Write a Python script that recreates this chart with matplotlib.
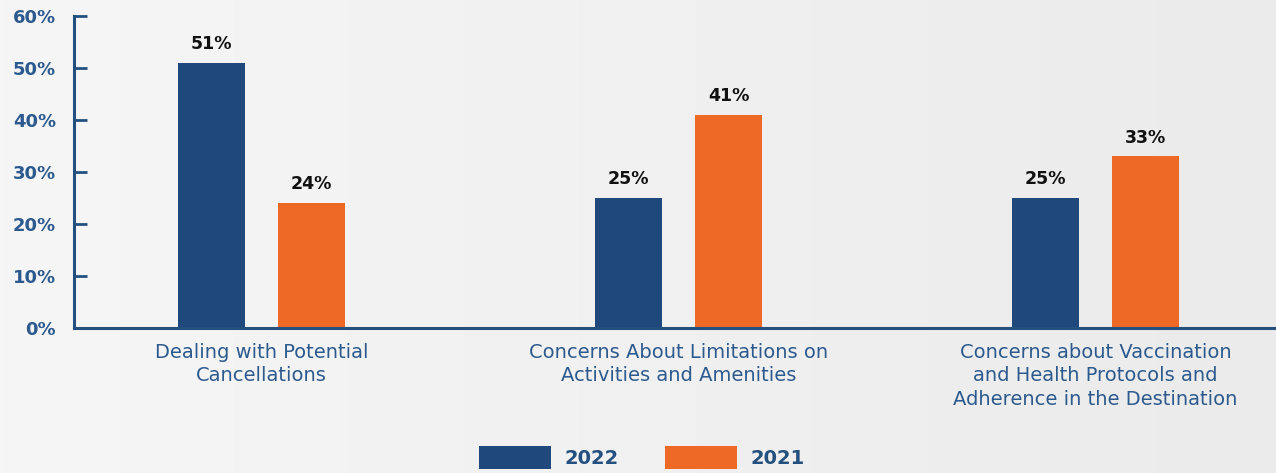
import numpy as np
import matplotlib
matplotlib.use("Agg")
import matplotlib.pyplot as plt
from matplotlib.colors import LinearSegmentedColormap

# Data
categories = [
    "Dealing with Potential\nCancellations",
    "Concerns About Limitations on\nActivities and Amenities",
    "Concerns about Vaccination\nand Health Protocols and\nAdherence in the Destination",
]
series_names = ["2022", "2021"]
values_2022 = [51, 25, 25]
values_2021 = [24, 41, 33]
y_ticks = [0, 10, 20, 30, 40, 50, 60]
y_tick_labels = ["0%", "10%", "20%", "30%", "40%", "50%", "60%"]

BLUE = "#1f497d"
ORANGE = "#ee6826"
AXIS_BLUE = "#24507f"
TEXT_BLUE = "#2c5a8e"

plt.rcParams["font.family"] = ["DejaVu Sans"]

fig = plt.figure(figsize=(12.76, 4.73), dpi=100)

# Soft left-to-right grey background
bg = fig.add_axes([0, 0, 1, 1], zorder=-10)
grad = np.linspace(0, 1, 256).reshape(1, -1)
cmap = LinearSegmentedColormap.from_list("bg", ["#f6f6f6", "#ebebeb"])
bg.imshow(grad, aspect="auto", cmap=cmap, extent=[0, 1, 0, 1])
bg.axis("off")

ax = fig.add_axes([74 / 1276, (473 - 328) / 473, (1276 - 74) / 1276, 312 / 473])
ax.patch.set_alpha(0)

x = np.arange(len(categories))
w = 0.16
off = 0.12
b1 = ax.bar(x - off, values_2022, width=w, color=BLUE, label=series_names[0], zorder=2)
b2 = ax.bar(x + off, values_2021, width=w, color=ORANGE, label=series_names[1], zorder=2)

for bars, vals in ((b1, values_2022), (b2, values_2021)):
    for rect, v in zip(bars, vals):
        ax.annotate(f"{v}%", (rect.get_x() + rect.get_width() / 2, v),
                    xytext=(0, 7), textcoords="offset points",
                    ha="center", va="bottom", fontsize=12.5,
                    fontweight="bold", color="#111111")

ax.set_xlim(-0.45, 2.433)
ax.set_ylim(0, 60)
ax.set_yticks(y_ticks)
ax.set_yticklabels(y_tick_labels, fontsize=13, fontweight="bold", color=TEXT_BLUE)
ax.set_xticks(x)
ax.set_xticklabels(categories, fontsize=14, color=TEXT_BLUE, linespacing=1.3)
ax.tick_params(axis="y", direction="in", length=9, width=2, color=AXIS_BLUE, pad=13)
ax.tick_params(axis="x", length=0, pad=10.5)

for s in ("top", "right"):
    ax.spines[s].set_visible(False)
for s in ("left", "bottom"):
    ax.spines[s].set_color(AXIS_BLUE)
    ax.spines[s].set_linewidth(2.2)

leg = fig.legend(handles=[b1, b2], labels=series_names, loc="center",
                 bbox_to_anchor=(0.503, 15.5 / 473), ncol=2, frameon=False,
                 handlelength=3.7, handleheight=1.39, handletextpad=0.67,
                 columnspacing=2.4, borderpad=0,
                 prop={"size": 14, "weight": "bold"})
for t in leg.get_texts():
    t.set_color(AXIS_BLUE)

fig.savefig("out.png", dpi=100)
